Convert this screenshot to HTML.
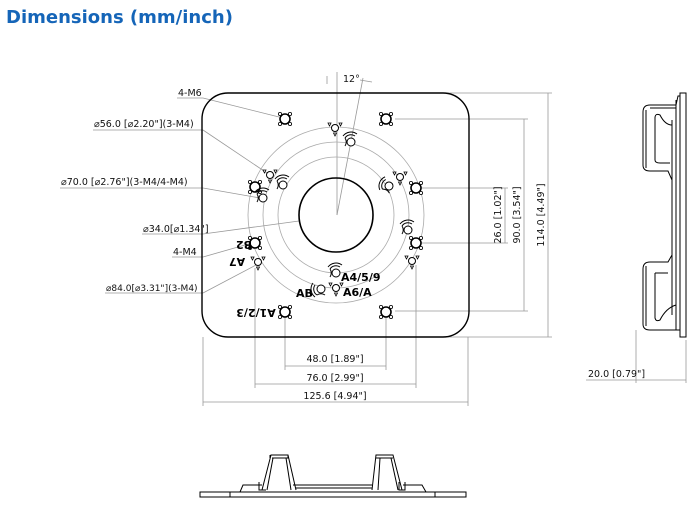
<!DOCTYPE html>
<html><head><meta charset="utf-8"><style>
html,body{margin:0;padding:0;background:#fff;}
svg{display:block;}
text{font-family:"DejaVu Sans","Liberation Sans",sans-serif;}
</style></head><body>
<svg width="700" height="513" viewBox="0 0 700 513" xmlns="http://www.w3.org/2000/svg">
<defs>
<g id="ch"><circle r="5" fill="#fff" stroke="#000" stroke-width="1.6"/><circle cx="-5" cy="-5" r="1.6" fill="#fff" stroke="#000" stroke-width=".8"/><circle cx="5" cy="-5" r="1.6" fill="#fff" stroke="#000" stroke-width=".8"/><circle cx="-5" cy="5" r="1.6" fill="#fff" stroke="#000" stroke-width=".8"/><circle cx="5" cy="5" r="1.6" fill="#fff" stroke="#000" stroke-width=".8"/></g>
<g id="tri"><circle r="3.5" fill="#fff" stroke="#000" stroke-width="1"/><path d="M-7,-5 l3,0 -1.5,3z M4,-5 l3,0 -1.5,3z M-1.5,5 l3,0 -1.5,3z" fill="#fff" stroke="#000" stroke-width=".8"/></g>
<g id="wf"><circle r="4" fill="#fff" stroke="#000" stroke-width="1"/><path d="M-6,-4 A7,7 0 0 1 4,-6 M-8,-6 A10,10 0 0 1 6,-8 M-6,4 A7,7 0 0 0 -6,-4" fill="none" stroke="#000" stroke-width="1"/></g>
</defs>
<text x="6" y="23" font-family="Liberation Sans" font-weight="bold" font-size="18" fill="#1565b8">Dimensions (mm/inch)</text>

<g stroke="#999" stroke-width=".8" fill="none">
<line x1="337" y1="72" x2="337" y2="215"/>
<line x1="363" y1="78" x2="337" y2="215"/>
<line x1="327" y1="76" x2="327" y2="84"/><line x1="360" y1="80" x2="372" y2="82"/>
<circle cx="336" cy="215" r="58" stroke="#aaa"/>
<circle cx="336" cy="215" r="73" stroke="#aaa"/>
<circle cx="336" cy="215" r="88" stroke="#aaa"/>
<line x1="177" y1="98" x2="203" y2="98"/><line x1="203" y1="98" x2="279" y2="117"/>
<line x1="93" y1="130" x2="203" y2="130"/><line x1="203" y1="130" x2="270" y2="175"/>
<line x1="60" y1="188" x2="203" y2="188"/><line x1="203" y1="188" x2="260" y2="198"/>
<line x1="142" y1="234" x2="203" y2="234"/><line x1="203" y1="234" x2="299" y2="221"/>
<line x1="172" y1="257" x2="203" y2="257"/><line x1="203" y1="257" x2="252" y2="243"/>
<line x1="105" y1="293" x2="203" y2="293"/><line x1="203" y1="293" x2="256" y2="265"/>
<line x1="440" y1="93" x2="552" y2="93"/><line x1="395" y1="119" x2="528" y2="119"/>
<line x1="417" y1="188" x2="508" y2="188"/><line x1="420" y1="243" x2="508" y2="243"/>
<line x1="395" y1="311" x2="528" y2="311"/><line x1="440" y1="337" x2="552" y2="337"/>
<line x1="548" y1="93" x2="548" y2="337"/><line x1="524" y1="119" x2="524" y2="311"/><line x1="505" y1="188" x2="505" y2="243"/>
<line x1="285" y1="316" x2="285" y2="370"/><line x1="386" y1="316" x2="386" y2="370"/>
<line x1="255" y1="268" x2="255" y2="388"/><line x1="416" y1="265" x2="416" y2="388"/>
<line x1="203" y1="337" x2="203" y2="406"/><line x1="468" y1="337" x2="468" y2="406"/>
<line x1="285" y1="366" x2="386" y2="366"/><line x1="255" y1="384" x2="416" y2="384"/><line x1="203" y1="402" x2="468" y2="402"/>
<line x1="636" y1="330" x2="636" y2="383"/><line x1="686" y1="340" x2="686" y2="383"/>
<line x1="586" y1="380" x2="686" y2="380"/>
</g>

<rect x="202" y="93" width="267" height="244" rx="26" fill="none" stroke="#000" stroke-width="1.4"/>
<circle cx="336" cy="215" r="37" fill="none" stroke="#000" stroke-width="1.6"/>

<use href="#ch" x="285" y="119"/><use href="#ch" x="386" y="119"/>
<use href="#ch" x="285" y="312"/><use href="#ch" x="386" y="312"/>
<use href="#ch" x="255" y="187"/><use href="#ch" x="416" y="188"/>
<use href="#ch" x="255" y="243"/><use href="#ch" x="416" y="243"/>
<use href="#tri" x="335" y="128"/><use href="#tri" x="270" y="175"/><use href="#tri" x="400" y="177"/>
<use href="#tri" x="258" y="262"/><use href="#tri" x="412" y="261"/><use href="#tri" x="336" y="288"/>
<use href="#wf" x="351" y="142"/><use href="#wf" x="283" y="185"/><use href="#wf" x="389" y="186" transform="rotate(-60 389 186)"/>
<use href="#wf" x="263" y="198"/><use href="#wf" x="408" y="230"/><use href="#wf" x="336" y="273"/><use href="#wf" x="321" y="289" transform="rotate(-90 321 289)"/>

<g font-size="11" font-weight="bold" font-family="Liberation Sans">
<text x="341" y="281">A4/5/9</text><text x="343" y="296">A6/A</text><text x="296" y="297">AB</text>
<text transform="translate(244,241) rotate(180)" text-anchor="middle">B2</text>
<text transform="translate(237,258) rotate(180)" text-anchor="middle">A7</text>
<text transform="translate(256,309) rotate(180)" text-anchor="middle">A1/2/3</text>
</g>

<g font-size="9.5" fill="#111">
<text x="343" y="82">12°</text>
<text x="178" y="96">4-M6</text>
<text x="94" y="127">⌀56.0 [⌀2.20"](3-M4)</text>
<text x="61" y="185">⌀70.0 [⌀2.76"](3-M4/4-M4)</text>
<text x="143" y="232">⌀34.0[⌀1.34"]</text>
<text x="173" y="255">4-M4</text>
<text x="106" y="291" font-size="9">⌀84.0[⌀3.31"](3-M4)</text>
<text x="335" y="362" text-anchor="middle">48.0 [1.89"]</text>
<text x="335" y="381" text-anchor="middle">76.0 [2.99"]</text>
<text x="335" y="399" text-anchor="middle">125.6 [4.94"]</text>
<text x="588" y="377">20.0 [0.79"]</text>
<text transform="translate(501,215) rotate(-90)" text-anchor="middle">26.0 [1.02"]</text>
<text transform="translate(520,215) rotate(-90)" text-anchor="middle">90.0 [3.54"]</text>
<text transform="translate(544,215) rotate(-90)" text-anchor="middle">114.0 [4.49"]</text>
</g>

<g fill="none" stroke="#000" stroke-width="1">
<rect x="680" y="93" width="6" height="244"/>
<path d="M676,100 V330"/><path d="M672,120 V315"/>
<path d="M680,96 H678 L676,105 H650 Q643,105 643,112 V165 Q643,171 650,171 H668 L672,180 V255 L668,262 H650 Q643,262 643,269 V324 Q643,330 650,330 H680"/>
<path d="M646,110 V168 M650,108 H676"/>
<path d="M655,118 Q655,113 660,115 Q665,125 672,125 M655,118 V160 Q655,163 660,163 H670"/>
<path d="M646,266 V326 M655,273 V318 Q656,322 660,320 Q666,308 676,305 M655,273 H668"/>
</g>
<g fill="none" stroke="#000" stroke-width="1">
<path d="M200,492 H466 V497 H200 Z M230,492 V497 M435,492 V497"/>
<path d="M240,492 L243,485 H262 M293,485 H372 M403,485 H422 L426,492"/>
<path d="M262,490 L271,455 H288 L296,490 M267,490 L273,458 M291,490 L286,458 M270,455 V458 M288,455 V458 H272"/>
<path d="M372,490 L376,455 H393 L402,490 M378,490 L380,458 M398,490 L391,458 M376,458 H393"/>
<path d="M259,482 V490 H266 M399,482 V490 H405 V482"/>
<path d="M296,488 H372"/>
</g>
</svg>
</body></html>
